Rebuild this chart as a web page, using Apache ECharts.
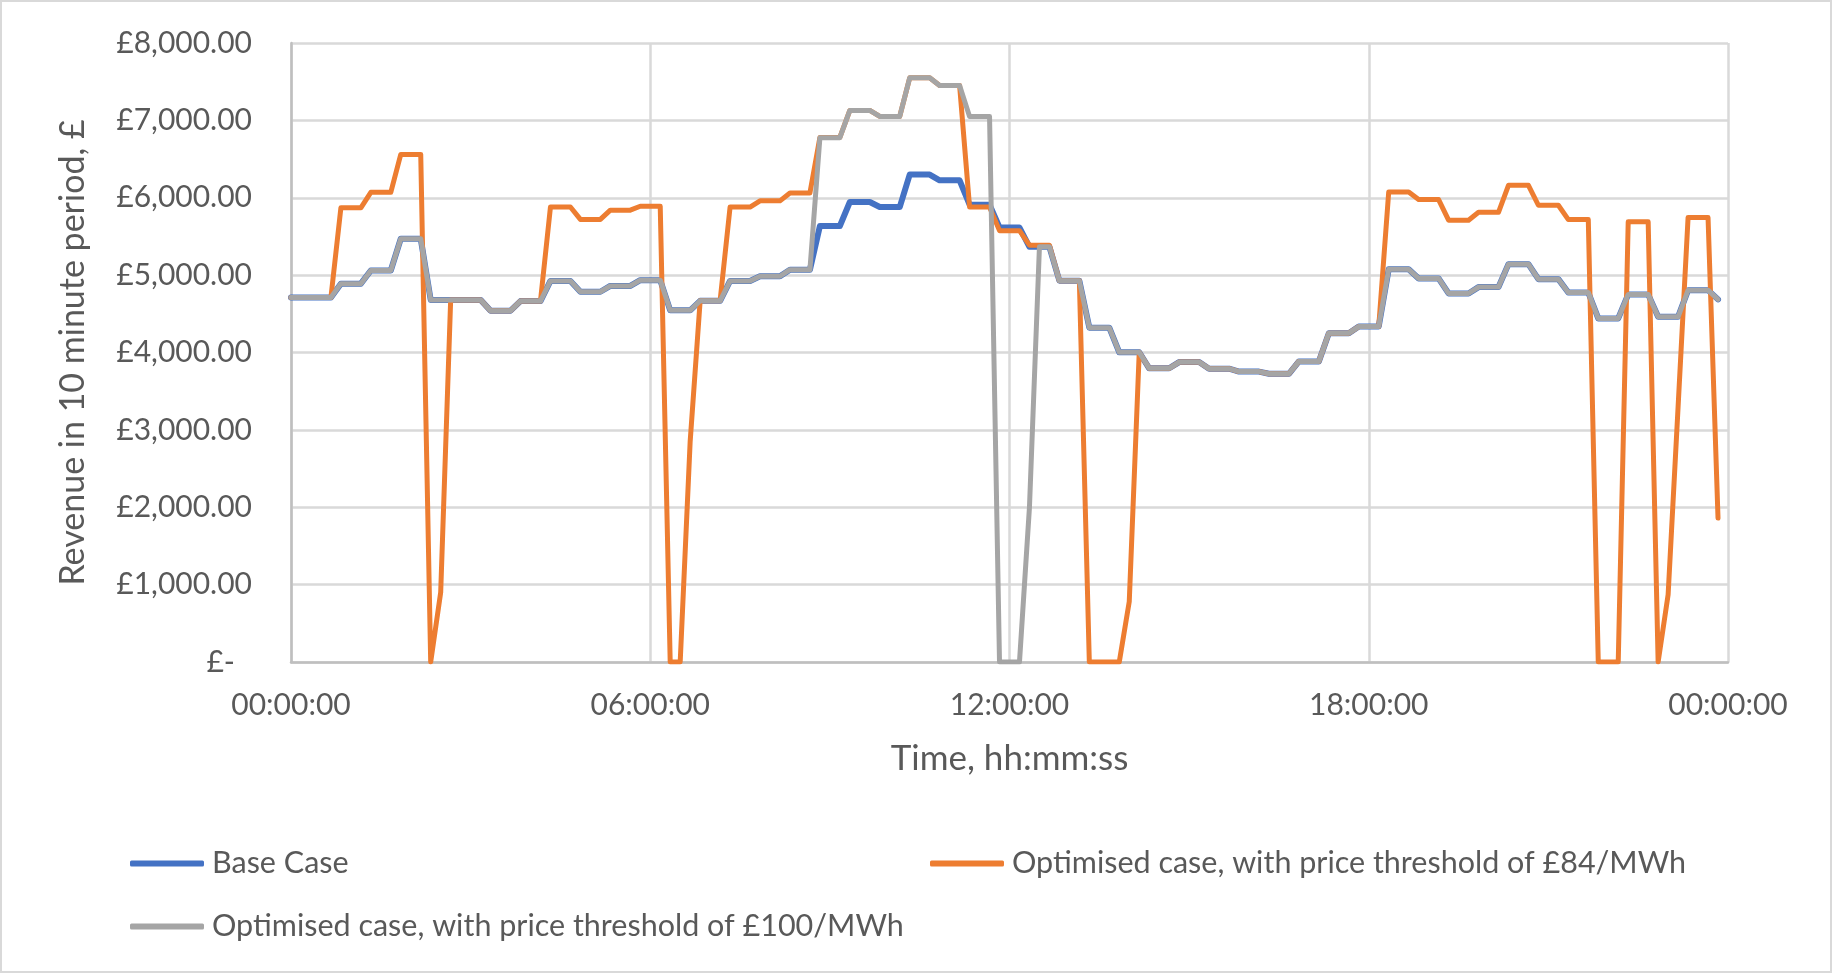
<!DOCTYPE html>
<html>
<head>
<meta charset="utf-8">
<title>Revenue in 10 minute period</title>
<script src="https://cdn.jsdelivr.net/npm/echarts@6/dist/echarts.min.js"></script>
<style>
  html, body { margin: 0; padding: 0; background: #ffffff; }
  #chart { width: 1832px; height: 973px; }
</style>
</head>
<body>
<div id="chart"></div>
<script>
// Revenue (£) in each 10-minute period across one day, 144 periods from 00:00.
const STEP_MINUTES = 10;

const SERIES_NAMES = [
  'Base Case',
  'Optimised case, with price threshold of £84/MWh',
  'Optimised case, with price threshold of £100/MWh'
];

const baseCase = [
  4710, 4710, 4710, 4710, 4710, 4890, 4890, 4890, 5060, 5060, 5060, 5470,
  5470, 5470, 4680, 4680, 4680, 4680, 4680, 4680, 4540, 4540, 4540, 4665,
  4665, 4665, 4925, 4925, 4925, 4785, 4785, 4785, 4860, 4860, 4860, 4935,
  4935, 4935, 4545, 4545, 4545, 4668, 4668, 4668, 4925, 4925, 4925, 4985,
  4985, 4985, 5070, 5070, 5070, 5635, 5635, 5635, 5945, 5945, 5945, 5880,
  5880, 5880, 6300, 6300, 6300, 6225, 6225, 6225, 5910, 5910, 5910, 5615,
  5615, 5615, 5366, 5366, 5366, 4927, 4927, 4927, 4321, 4321, 4321, 4002,
  4002, 4002, 3796, 3796, 3796, 3876, 3876, 3876, 3791, 3791, 3791, 3753,
  3753, 3753, 3725, 3725, 3725, 3885, 3885, 3885, 4250, 4250, 4250, 4335,
  4335, 4335, 5075, 5075, 5075, 4957, 4957, 4957, 4763, 4763, 4763, 4845,
  4845, 4845, 5142, 5142, 5142, 4948, 4948, 4948, 4776, 4776, 4776, 4441,
  4441, 4441, 4751, 4751, 4751, 4462, 4462, 4462, 4806, 4806, 4806, 4686
];

const threshold84 = [
  4710, 4710, 4710, 4710, 4710, 5870, 5870, 5870, 6070, 6070, 6070, 6560,
  6560, 6560,    0,  900, 4680, 4680, 4680, 4680, 4540, 4540, 4540, 4665,
  4665, 4665, 5880, 5880, 5880, 5720, 5720, 5720, 5840, 5840, 5840, 5890,
  5890, 5890,    0,    0, 2850, 4668, 4668, 4668, 5880, 5880, 5880, 5960,
  5960, 5960, 6062, 6062, 6062, 6780, 6780, 6780, 7128, 7128, 7128, 7051,
  7051, 7051, 7550, 7550, 7550, 7451, 7451, 7451, 5880, 5880, 5880, 5575,
  5575, 5575, 5387, 5387, 5387, 4927, 4927, 4927,    0,    0,    0,    0,
   780, 4002, 3796, 3796, 3796, 3876, 3876, 3876, 3791, 3791, 3791, 3753,
  3753, 3753, 3725, 3725, 3725, 3885, 3885, 3885, 4250, 4250, 4250, 4335,
  4335, 4335, 6075, 6075, 6075, 5976, 5976, 5976, 5710, 5710, 5710, 5812,
  5812, 5812, 6161, 6161, 6161, 5903, 5903, 5903, 5718, 5718, 5718,    0,
     0,    0, 5690, 5690, 5690,    0,  870, 3300, 5745, 5745, 5745, 1860
];

const threshold100 = [
  4710, 4710, 4710, 4710, 4710, 4890, 4890, 4890, 5060, 5060, 5060, 5470,
  5470, 5470, 4680, 4680, 4680, 4680, 4680, 4680, 4540, 4540, 4540, 4665,
  4665, 4665, 4925, 4925, 4925, 4785, 4785, 4785, 4860, 4860, 4860, 4935,
  4935, 4935, 4545, 4545, 4545, 4668, 4668, 4668, 4925, 4925, 4925, 4985,
  4985, 4985, 5070, 5070, 5070, 6776, 6776, 6776, 7128, 7128, 7128, 7051,
  7051, 7051, 7550, 7550, 7550, 7451, 7451, 7451, 7051, 7051, 7051,    0,
     0,    0, 2000, 5366, 5366, 4927, 4927, 4927, 4321, 4321, 4321, 4002,
  4002, 4002, 3796, 3796, 3796, 3876, 3876, 3876, 3791, 3791, 3791, 3753,
  3753, 3753, 3725, 3725, 3725, 3885, 3885, 3885, 4250, 4250, 4250, 4335,
  4335, 4335, 5075, 5075, 5075, 4957, 4957, 4957, 4763, 4763, 4763, 4845,
  4845, 4845, 5142, 5142, 5142, 4948, 4948, 4948, 4776, 4776, 4776, 4441,
  4441, 4441, 4751, 4751, 4751, 4462, 4462, 4462, 4806, 4806, 4806, 4686
];

const SERIES_COLORS = ['#4472C4', '#ED7D31', '#A5A5A5'];
const TEXT_COLOR = '#595959';
const FONT = 'Lato, "Open Sans", sans-serif';

// Pair each value with its period start, in minutes after midnight.
function toPoints(values) {
  return values.map((v, i) => [i * STEP_MINUTES, v]);
}

function pad2(n) { return (n < 10 ? '0' : '') + n; }

function timeLabel(minutes) {
  const m = Math.round(minutes) % 1440;
  return pad2(Math.floor(m / 60)) + ':' + pad2(m % 60) + ':00';
}

function poundLabel(v) {
  if (v === 0) return '{dash|£-}';
  return '£' + v.toLocaleString('en-GB', { minimumFractionDigits: 2, maximumFractionDigits: 2 });
}

const chart = echarts.init(document.getElementById('chart'), null, { renderer: 'canvas' });

const legendCommon = {
  orient: 'horizontal',
  padding: 0,
  icon: 'roundRect',
  itemWidth: 74,
  itemHeight: 6,
  itemGap: 0,
  textStyle: { fontFamily: FONT, fontSize: 30.5, color: TEXT_COLOR, padding: [0, 0, 0, 3] }
};

const lineWidths = [6, 5, 5];

chart.setOption({
  animation: false,
  backgroundColor: '#ffffff',
  textStyle: { fontFamily: FONT },
  graphic: [{
    type: 'rect',
    shape: { x: 1, y: 1, width: 1830, height: 971 },
    style: { fill: 'none', stroke: '#d9d9d9', lineWidth: 2 },
    silent: true,
    z: -1
  }],
  grid: { left: 291, right: 104, top: 43, bottom: 311, containLabel: false },
  legend: [
    Object.assign({}, legendCommon, { data: [SERIES_NAMES[0]], left: 130, top: 848 }),
    Object.assign({}, legendCommon, { data: [SERIES_NAMES[1]], left: 930, top: 848 }),
    Object.assign({}, legendCommon, { data: [SERIES_NAMES[2]], left: 130, top: 911 })
  ],
  xAxis: {
    type: 'value',
    min: 0,
    max: 1440,
    interval: 360,
    name: 'Time, hh:mm:ss',
    nameLocation: 'middle',
    nameGap: 79,
    nameTextStyle: { fontFamily: FONT, fontSize: 35, color: TEXT_COLOR },
    axisLine: { show: true, onZero: false, lineStyle: { color: '#bfbfbf', width: 2.5 } },
    axisTick: { show: false },
    splitLine: { show: true, lineStyle: { color: '#d9d9d9', width: 2.5 } },
    axisLabel: {
      formatter: timeLabel,
      color: TEXT_COLOR,
      fontFamily: FONT,
      fontSize: 30,
      margin: 28,
      showMinLabel: true,
      showMaxLabel: true
    }
  },
  yAxis: {
    type: 'value',
    min: 0,
    max: 8000,
    interval: 1000,
    name: 'Revenue in 10 minute period, £',
    nameLocation: 'middle',
    nameGap: 201,
    nameTextStyle: { fontFamily: FONT, fontSize: 34, color: TEXT_COLOR },
    axisLine: { show: true, lineStyle: { color: '#bfbfbf', width: 2.5 } },
    axisTick: { show: false },
    splitLine: { show: true, lineStyle: { color: '#d9d9d9', width: 2.5 } },
    axisLabel: {
      formatter: poundLabel,
      color: TEXT_COLOR,
      fontFamily: FONT,
      fontSize: 30,
      margin: 39,
      rich: { dash: { fontFamily: FONT, fontSize: 30, color: TEXT_COLOR, padding: [0, 17, 0, 0] } }
    }
  },
  series: [baseCase, threshold84, threshold100].map((values, k) => ({
    name: SERIES_NAMES[k],
    type: 'line',
    data: toPoints(values),
    showSymbol: false,
    symbol: 'none',
    color: SERIES_COLORS[k],
    lineStyle: { color: SERIES_COLORS[k], width: lineWidths[k], cap: 'round', join: 'round' },
    z: 2 + k
  }))
});
</script>
</body>
</html>
